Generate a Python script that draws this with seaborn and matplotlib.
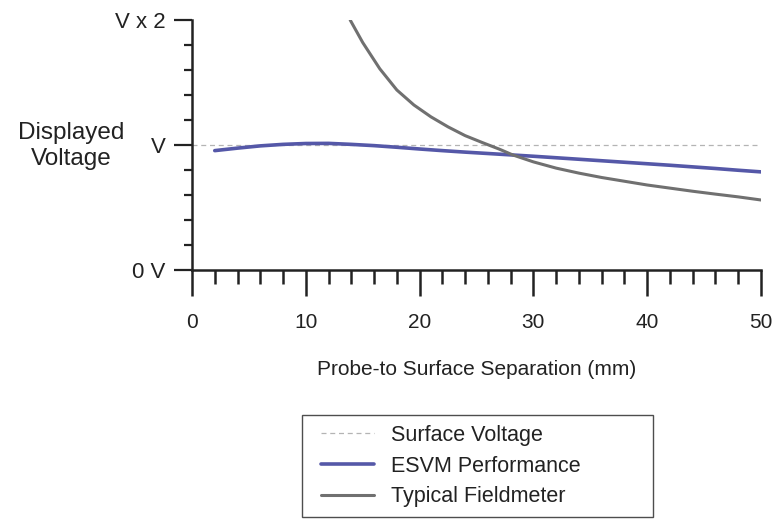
import numpy as np
import pandas as pd
import matplotlib
matplotlib.use("Agg")
import matplotlib.pyplot as plt
import seaborn as sns
from matplotlib.ticker import MultipleLocator, FixedLocator
from matplotlib.legend_handler import HandlerLine2D

# ---- data ----
surface_x = [0, 50]
surface_y = [1.0, 1.0]

esvm_x = [2, 4, 6, 8, 10, 12, 14, 16, 18, 20, 22, 24, 26, 28, 30, 32, 34, 36, 38, 40, 42, 44, 46, 48, 50]
esvm_y = [0.955, 0.975, 0.993, 1.005, 1.012, 1.013, 1.005, 0.995, 0.982, 0.968, 0.955, 0.943, 0.932,
          0.921, 0.91, 0.898, 0.886, 0.874, 0.862, 0.85, 0.838, 0.825, 0.812, 0.798, 0.785]

field_x = [13.9, 15, 16.5, 18, 19.5, 21, 22.5, 24, 25.5, 27, 28.2, 30, 32, 34, 36, 38, 40, 42, 44,
           46, 48, 50]
field_y = [2.0, 1.82, 1.61, 1.44, 1.32, 1.225, 1.145, 1.075, 1.02, 0.967, 0.92, 0.865, 0.815,
           0.775, 0.74, 0.71, 0.68, 0.655, 0.63, 0.607, 0.585, 0.56]

y_ticks = [0, 1, 2]
y_labels = ["0 V", "V", "V x 2"]
x_ticks = [0, 10, 20, 30, 40, 50]

sns.set_theme(style="white")
plt.rcParams["font.family"] = ["Liberation Sans", "DejaVu Sans"]

fig = plt.figure(figsize=(7.81, 5.2), dpi=100)
ax = fig.add_axes([192/781, 1-270/520, (761-192)/781, 250/520])

sns.lineplot(x=surface_x, y=surface_y, ax=ax, color="#b4b4b4", linewidth=0.9,
             linestyle=(0, (4, 3)), label="Surface Voltage")
sns.lineplot(x=esvm_x, y=esvm_y, ax=ax, color="#5558a8", linewidth=2.6,
             label="ESVM Performance")
sns.lineplot(x=field_x, y=field_y, ax=ax, color="#707070", linewidth=2.2,
             label="Typical Fieldmeter")

ax.set_xlim(0, 50)
ax.set_ylim(0, 2)
for s in ["top", "right"]:
    ax.spines[s].set_visible(False)
for s in ["left", "bottom"]:
    ax.spines[s].set_color("#222222")
    ax.spines[s].set_linewidth(1.8)

ax.xaxis.set_major_locator(FixedLocator(x_ticks))
ax.xaxis.set_minor_locator(MultipleLocator(2))
ax.yaxis.set_major_locator(FixedLocator(y_ticks))
ax.set_yticklabels(y_labels)
ax.yaxis.set_minor_locator(MultipleLocator(0.2))

ax.tick_params(axis="x", which="major", direction="out", length=19, width=1.8,
               color="#222222", pad=12, labelsize=15, labelcolor="#222222", bottom=True)
ax.tick_params(axis="x", which="minor", direction="out", length=10, width=1.8,
               color="#222222", bottom=True)
ax.tick_params(axis="y", which="major", direction="out", length=13, width=1.6,
               color="#222222", pad=6, labelsize=16, labelcolor="#222222", left=True)
ax.tick_params(axis="y", which="minor", direction="out", length=6, width=1.6,
               color="#222222", left=True)

ax.set_xlabel("Probe-to Surface Separation (mm)", fontsize=15, color="#222222", labelpad=20)
ax.set_ylabel("")
fig.text(71/781, 1-146/520, "Displayed\nVoltage", ha="center", va="center",
         fontsize=17.5, color="#222222", linespacing=1.2)

if ax.legend_:
    ax.legend_.remove()
handles, labels = ax.get_legend_handles_labels()
fs = 15.5
leg = fig.legend(handles, labels, loc="upper center",
                 bbox_to_anchor=(302/781, 1-415/520, 351/781, 0),
                 bbox_transform=fig.transFigure, mode="expand", borderaxespad=0,
                 frameon=True, fancybox=False, fontsize=fs, handlelength=2.88,
                 handletextpad=0.79, labelspacing=0.45, borderpad=0.46,
                 handler_map={h: HandlerLine2D(xpad=0.42) for h in handles})
leg.get_frame().set_edgecolor("#222222")
leg.get_frame().set_linewidth(1.0)
for t in leg.get_texts():
    t.set_color("#222222")

fig.savefig("out.png", dpi=100)
